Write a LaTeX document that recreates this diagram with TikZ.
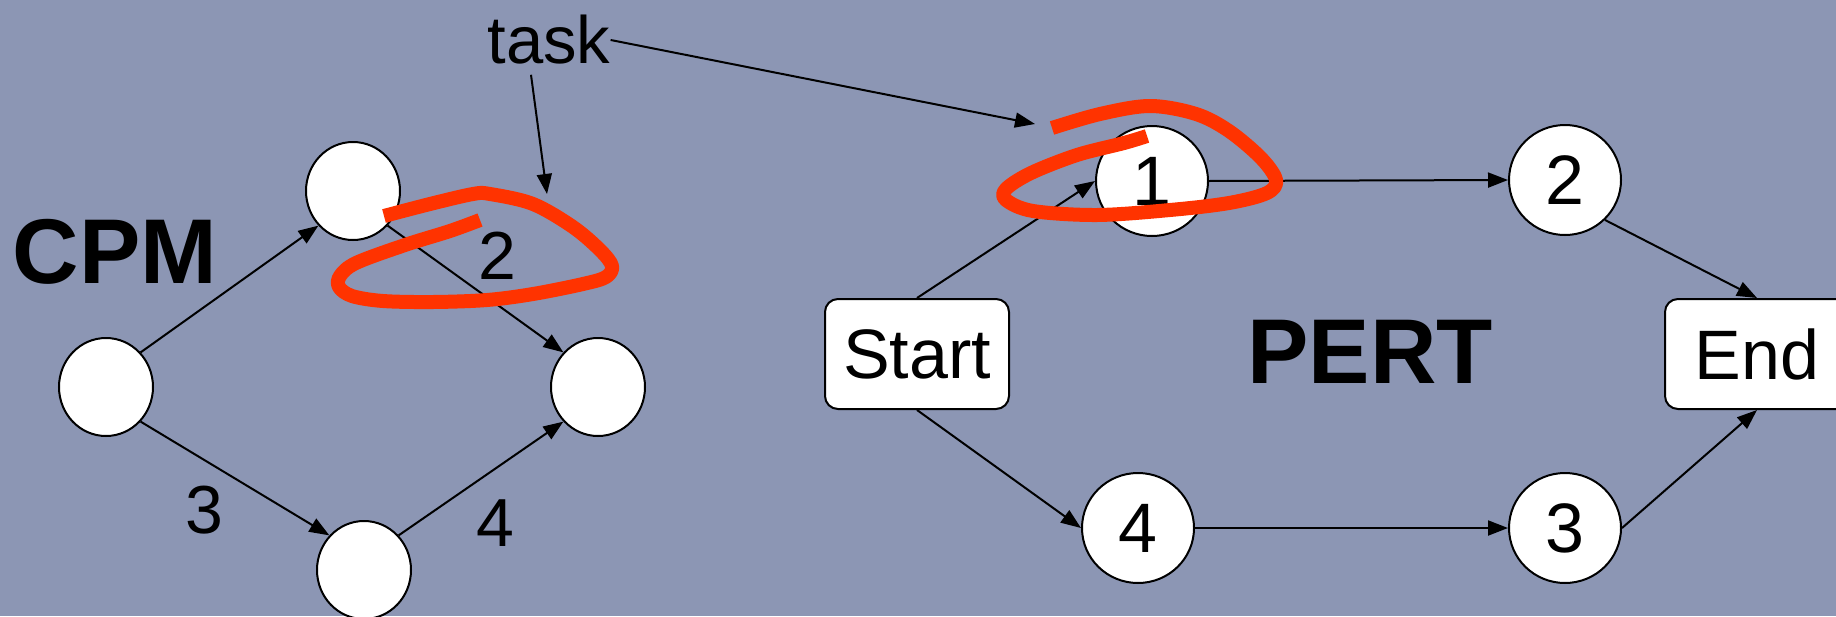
\documentclass[tikz,border=0pt]{standalone}
\usepackage{fontspec}
\setmainfont{Liberation Sans}
\usepackage{xcolor}
\usetikzlibrary{arrows.meta}
\usetikzlibrary{shapes.geometric}
\definecolor{slidebg}{RGB}{140,150,180}
\definecolor{penred}{RGB}{255,51,0}

\begin{document}
\begin{tikzpicture}[x=1pt,y=-1pt,
    cpmev/.style={draw,line width=2pt,fill=white,ellipse,inner sep=0pt,minimum width=94pt,minimum height=98pt},
    pertev/.style={draw,line width=2pt,fill=white,ellipse,inner sep=0pt,minimum width=112pt,minimum height=110pt,font=\fontsize{70}{72}\selectfont},
    endbox/.style={draw,line width=2pt,fill=white,rounded corners=13pt,inner sep=0pt,minimum width=184pt,minimum height=110pt,font=\fontsize{70}{72}\selectfont},
    lbl/.style={inner sep=0pt,font=\fontsize{68}{70}\selectfont},
    title/.style={inner sep=0pt,font=\fontsize{92}{94}\selectfont\bfseries},
    link/.style={line width=2pt,-{Triangle[length=20pt,width=15pt]}},
    pen/.style={penred,line width=14pt,line join=round}]
    \fill[slidebg] (0,0) rectangle (1836,616);
    \useasboundingbox (0,0) rectangle (1836,616);
    % CPM
    \node[title] (cpm) at (115,252) {CPM};
    \node[cpmev] (ca) at (106,387) {};
    \node[cpmev] (cb) at (353,191) {};
    \node[cpmev] (cc) at (598,387) {};
    \node[cpmev] (cd) at (364,570) {};
    \draw[link] (ca.45) -- (cb.225);
    \draw[link] (cb.-45) -- (cc.135);
    \draw[link] (ca.-45) -- (cd.135);
    \draw[link] (cd.45) -- (cc.-135);
    \node[lbl] (l2) at (497,256) {2};
    \node[lbl] (l3) at (204,510) {3};
    \node[lbl] (l4) at (495,523) {4};
    % PERT
    \node[title] (pert) at (1370,352) {PERT};
    \node[endbox] (st) at (917,354) {Start};
    \node[endbox] (en) at (1757,354) {End};
    \node[pertev] (p1) at (1152,181) {1};
    \node[pertev] (p2) at (1565,180) {2};
    \node[pertev] (p4) at (1138,528) {4};
    \node[pertev] (p3) at (1565,528) {3};
    \draw[link] (st.north) -- (p1.west);
    \draw[link] (p1.east) -- (p2.west);
    \draw[link] (p2.-45) -- (en.north);
    \draw[link] (st.south) -- (p4.west);
    \draw[link] (p4.east) -- (p3.west);
    \draw[link] (p3.east) -- (en.south);
    % task pointers
    \node[inner sep=0pt,font=\fontsize{67}{69}\selectfont] (task) at (549,40) {task};
    \coordinate (tipcpm) at (547,194);
    \coordinate (tippert) at (1035,124);
    \draw[link] ([xshift=-18pt,yshift=-10pt]task.south) -- (tipcpm);
    \draw[link] (task.east) -- (tippert);
    % red marks
    \draw[pen] plot[smooth,tension=0.55] coordinates {(384,216) (430,204) (473,194) (490,194)
      (533,204) (573,227) (600,250) (612,266) (606,277) (583,284) (533,294) (487,300)
      (433,302) (383,301) (352,296) (339,287) (340,276) (356,263) (405,245) (450,231) (480,220)};
    \draw[pen] plot[smooth,tension=0.55] coordinates {(1052,128) (1100,114) (1150,106) (1196,114)
      (1229,131) (1261,158) (1276,180) (1267,193) (1229,203) (1170,210) (1097,215)
      (1033,211) (1006,200) (1006,189) (1031,173) (1077,155) (1124,143) (1147,136)};
\end{tikzpicture}
\end{document}
